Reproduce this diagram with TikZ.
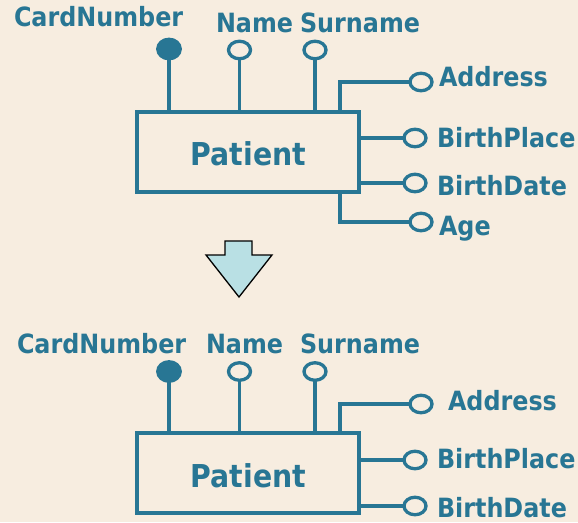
\documentclass[tikz,border=0pt]{standalone}
\usepackage{fontspec}
\setmainfont{DejaVu Sans Condensed}
\usetikzlibrary{shapes.geometric}

\definecolor{paper}{RGB}{247,237,224}
\definecolor{erblue}{RGB}{40,118,148}
\definecolor{arrowfill}{RGB}{185,224,228}

\tikzset{
  er/.style={line width=3.3pt, draw=erblue},
  entity/.style={er, rectangle, outer sep=0pt, inner sep=0pt,
    minimum width=222pt, minimum height=80pt},
  entname/.style={inner sep=0pt, anchor=base, text=erblue,
    font=\fontsize{31.5}{34}\selectfont\bfseries},
  attr/.style={er, ellipse, outer sep=0pt, inner sep=0pt,
    minimum width=22pt, minimum height=17.5pt, fill=paper},
  keyattr/.style={attr, fill=erblue, minimum width=22.5pt, minimum height=19.5pt},
  lbl/.style={inner sep=0pt, outer sep=0pt, anchor=base west,
    font=\fontsize{26.5}{30}\selectfont\bfseries, text=erblue},
  link/.style={er},
}

\begin{document}
\begin{tikzpicture}[x=1pt, y=-1pt]
  \useasboundingbox (0,0) rectangle (578,522);
  \fill[paper] (0,0) rectangle (578,522);

  % ---- entity with all attributes ----
  \node[entity] (e1) at (248,152) {};
  \node[entname] (p1) at (248.5,165) {Patient};

  \node[keyattr] (cn1) at (169,49) {};
  \node[attr] (nm1) at (239.5,50) {};
  \node[attr] (sn1) at (315,50) {};
  \node[attr] (ad1) at (421,82) {};
  \node[attr] (bp1) at (415,138) {};
  \node[attr] (bd1) at (415,183) {};
  \node[attr] (ag1) at (421,222) {};

  \draw[link] (cn1.south) -- (cn1.south |- e1.north);
  \draw[link] (nm1.south) -- (nm1.south |- e1.north);
  \draw[link] (sn1.south) -- (sn1.south |- e1.north);
  \draw[link] ([xshift=-19pt]e1.north east) |- (ad1.west);
  \draw[link] (e1.east |- bp1) -- (bp1.west);
  \draw[link] (e1.east |- bd1) -- (bd1.west);
  \draw[link] ([xshift=-19pt]e1.south east) |- (ag1.west);

  \node[lbl] (tcn1) at (14,27) {CardNumber};
  \node[lbl] (tnm1) at (216,32) {Name};
  \node[lbl] (tsn1) at (300,32) {Surname};
  \node[lbl] (tad1) at (439,86) {Address};
  \node[lbl] (tbp1) at (437,147) {BirthPlace};
  \node[lbl] (tbd1) at (437,195) {BirthDate};
  \node[lbl] (tag1) at (439,235) {Age};

  % ---- transformation arrow ----
  \draw[fill=arrowfill, draw=black, line width=1.3pt, line join=miter]
    (225,241) -- (252,241) -- (252,255) -- (272,255) -- (239,297)
    -- (206,255) -- (225,255) -- cycle;

  % ---- entity after removing the derived attribute ----
  \node[entity] (e2) at (248,473) {};
  \node[entname] (p2) at (248.5,487) {Patient};

  \node[keyattr] (cn2) at (169,371.5) {};
  \node[attr] (nm2) at (239.5,371.5) {};
  \node[attr] (sn2) at (315,371.5) {};
  \node[attr] (ad2) at (421,404) {};
  \node[attr] (bp2) at (415,460) {};
  \node[attr] (bd2) at (415,506) {};

  \draw[link] (cn2.south) -- (cn2.south |- e2.north);
  \draw[link] (nm2.south) -- (nm2.south |- e2.north);
  \draw[link] (sn2.south) -- (sn2.south |- e2.north);
  \draw[link] ([xshift=-19pt]e2.north east) |- (ad2.west);
  \draw[link] (e2.east |- bp2) -- (bp2.west);
  \draw[link] (e2.east |- bd2) -- (bd2.west);

  \node[lbl] (tcn2) at (17,353) {CardNumber};
  \node[lbl] (tnm2) at (206,353) {Name};
  \node[lbl] (tsn2) at (300,353) {Surname};
  \node[lbl] (tad2) at (448,410) {Address};
  \node[lbl] (tbp2) at (437,468) {BirthPlace};
  \node[lbl] (tbd2) at (437,517) {BirthDate};
\end{tikzpicture}
\end{document}
